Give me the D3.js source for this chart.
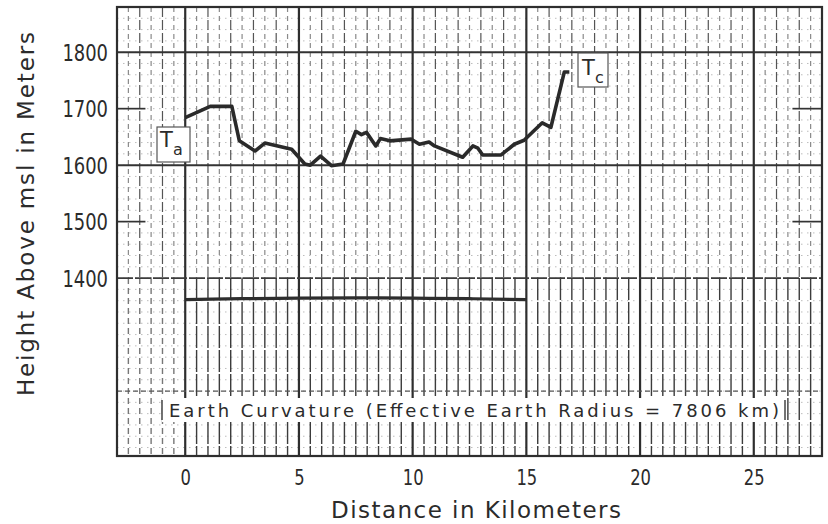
<!DOCTYPE html>
<html>
<head>
<meta charset="utf-8">
<script src="https://cdn.jsdelivr.net/npm/d3@7"></script>
<style>
  html, body { margin: 0; padding: 0; background: #fff; }
  svg { display: block; }
  text { font-family: "DejaVu Sans", "Noto Sans", sans-serif; fill: #2b2b2b; }
</style>
</head>
<body>
<svg id="chart" width="828" height="524"></svg>
<script>
// Terrain profile between the two terminals (km, m above msl)
const profileKm = [0, 1.1, 2.05, 2.38, 3.07, 3.5, 4.68, 5.26, 5.5, 5.95, 6.43, 6.94, 7.5, 7.75, 7.97, 8.38, 8.58, 9.0, 9.94, 10.3, 10.72, 10.96, 12.2, 12.65, 12.87, 13.08, 13.89, 14.47, 14.9, 15.7, 16.08, 16.67, 16.89];
const profileM  = [1684, 1704, 1704, 1643, 1625, 1639, 1628, 1602, 1600, 1616, 1599, 1602, 1660, 1654, 1658, 1634, 1647, 1643, 1646, 1637, 1641, 1634, 1614, 1634, 1630, 1618, 1618, 1637, 1644, 1675, 1667, 1765, 1765];

// Earth-curvature reference arc along the path
const curvatureKm = [0, 2.5, 5, 7.5, 10, 12.5, 15];
const curvatureM  = [1362, 1363.5, 1364.5, 1365, 1364.5, 1363.5, 1362];

// Axis ticks
const xTicks = [0, 5, 10, 15, 20, 25];
const yTicks = [1400, 1500, 1600, 1700, 1800];

const svg = d3.select("#chart");
const x = d3.scaleLinear().domain([-3, 28]).range([117, 822]);
const y = d3.scaleLinear().domain([1085, 1880]).range([456, 7]);
const [x0, x1] = x.range();
const [yb, yt] = y.range();

const grid = svg.append("g");

// faint dotted horizontal rulings of the graph paper
d3.range(1100, 1880, 20).forEach(v => {
  grid.append("line")
    .attr("x1", x0).attr("x2", x1).attr("y1", y(v)).attr("y2", y(v))
    .attr("stroke", "#bdbdbd").attr("stroke-width", 1)
    .attr("stroke-dasharray", "1.5,4.5");
});

// half-kilometre vertical rulings
d3.range(-2.5, 28, 0.5).filter(v => v % 5 !== 0).forEach(v => {
  const whole = Number.isInteger(v);
  grid.append("line")
    .attr("x1", x(v)).attr("x2", x(v)).attr("y1", yt).attr("y2", y(1400))
    .attr("stroke", whole ? "#555" : "#8a8a8a").attr("stroke-width", 1.2)
    .attr("stroke-dasharray", whole ? "10,3" : "5,4");
  grid.append("line")
    .attr("x1", x(v)).attr("x2", x(v)).attr("y1", y(1400)).attr("y2", yb)
    .attr("stroke", v < 0 ? "#777" : "#3c3c3c").attr("stroke-width", 1.4)
    .attr("stroke-dasharray", v < 0 ? "6,4" : "22,2");
});

// heavy 5-km verticals
xTicks.forEach(v => {
  grid.append("line")
    .attr("x1", x(v)).attr("x2", x(v)).attr("y1", yt).attr("y2", yb)
    .attr("stroke", "#2e2e2e").attr("stroke-width", 2.2);
});

// horizontal reference lines
[1800, 1600].forEach(v => {
  grid.append("line").attr("x1", x0).attr("x2", x1).attr("y1", y(v)).attr("y2", y(v))
    .attr("stroke", "#333").attr("stroke-width", 2);
});
grid.append("line").attr("x1", x0).attr("x2", x1).attr("y1", y(1400)).attr("y2", y(1400))
  .attr("stroke", "#3c3c3c").attr("stroke-width", 1.7).attr("stroke-dasharray", "16,2");
grid.append("line").attr("x1", x0).attr("x2", x1).attr("y1", y(1200)).attr("y2", y(1200))
  .attr("stroke", "#555").attr("stroke-width", 1.3).attr("stroke-dasharray", "5,3");

// short edge marks at the intermediate heights
[1700, 1500].forEach(v => {
  grid.append("line").attr("x1", x0).attr("x2", x(-1.75)).attr("y1", y(v)).attr("y2", y(v))
    .attr("stroke", "#333").attr("stroke-width", 1.7);
  grid.append("line").attr("x1", x(26.7)).attr("x2", x1).attr("y1", y(v)).attr("y2", y(v))
    .attr("stroke", "#333").attr("stroke-width", 1.7);
});

// plot frame
svg.append("rect").attr("x", x0).attr("y", yt).attr("width", x1 - x0).attr("height", yb - yt)
  .attr("fill", "none").attr("stroke", "#2e2e2e").attr("stroke-width", 2.2);

// earth curvature arc
svg.append("path")
  .datum(curvatureKm.map((k, i) => [k, curvatureM[i]]))
  .attr("d", d3.line().x(d => x(d[0])).y(d => y(d[1])).curve(d3.curveMonotoneX))
  .attr("fill", "none").attr("stroke", "#2e2e2e").attr("stroke-width", 3.2);

// terrain profile
svg.append("path")
  .datum(profileKm.map((k, i) => [k, profileM[i]]))
  .attr("d", d3.line().x(d => x(d[0])).y(d => y(d[1])))
  .attr("fill", "none").attr("stroke", "#2a2a2a").attr("stroke-width", 3.6)
  .attr("stroke-linejoin", "round");

// terminal labels
function terminal(bx, by, bw, bh, sub, tx, ty) {
  const g = svg.append("g");
  g.append("rect").attr("x", bx).attr("y", by).attr("width", bw).attr("height", bh)
    .attr("fill", "#fff").attr("stroke", "#555").attr("stroke-width", 1.2);
  g.append("text").attr("x", tx).attr("y", ty).attr("font-size", 21).text("T");
  g.append("text").attr("x", tx + 13).attr("y", ty + 8).attr("font-size", 16).text(sub);
}
terminal(157, 127, 33, 35, "a", 160, 147);
terminal(578, 53, 30, 34, "c", 582, 75);

// curvature caption
const cap = svg.append("g");
cap.append("rect").attr("x", 162).attr("y", 398).attr("width", 623).attr("height", 24).attr("fill", "#fff");
[162, 785].forEach(px => cap.append("line").attr("x1", px).attr("x2", px).attr("y1", 400).attr("y2", 420)
  .attr("stroke", "#444").attr("stroke-width", 1.5));
cap.append("text").attr("x", 169).attr("y", 417).attr("font-size", 18)
  .attr("textLength", 610).attr("lengthAdjust", "spacing")
  .text("Earth Curvature (Effective Earth Radius = 7806 km)");

// axes
const sx = 0.78;
const xAxis = svg.append("g").attr("transform", `translate(0,${yb})`)
  .call(d3.axisBottom(x).tickValues(xTicks).tickSize(0).tickPadding(0).tickFormat(d3.format("d")));
xAxis.select(".domain").remove();
xAxis.selectAll("text").attr("font-size", 21).attr("dy", 0).attr("y", 29)
  .attr("fill", "#2b2b2b").attr("transform", `scale(${sx},1)`)
  .style("font-family", "'DejaVu Sans', sans-serif");

const yAxis = svg.append("g").attr("transform", `translate(${x0},0)`)
  .call(d3.axisLeft(y).tickValues(yTicks).tickSize(0).tickFormat(d3.format("d")));
yAxis.select(".domain").remove();
yAxis.selectAll("text").attr("font-size", 23).attr("x", -9 / sx).attr("dy", "0.36em")
  .attr("fill", "#2b2b2b").attr("transform", `scale(${sx},1)`)
  .style("font-family", "'DejaVu Sans', sans-serif");

// axis titles
svg.append("text").attr("x", 331).attr("y", 518).attr("font-size", 23)
  .attr("textLength", 290).attr("lengthAdjust", "spacing")
  .text("Distance in Kilometers");
svg.append("text").attr("transform", "translate(34,396) rotate(-90)").attr("font-size", 23)
  .attr("textLength", 364).attr("lengthAdjust", "spacing")
  .text("Height Above msl in Meters");
</script>
</body>
</html>
